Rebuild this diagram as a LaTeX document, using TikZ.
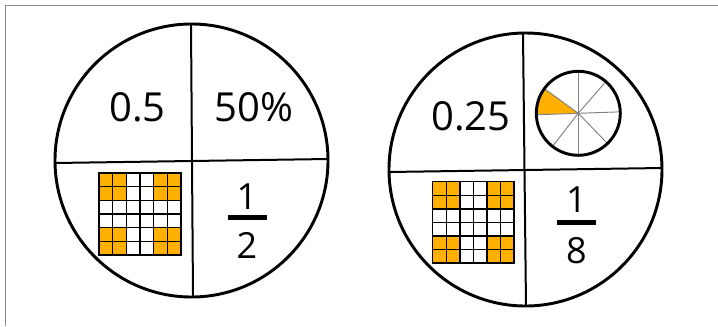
\documentclass[tikz,border=0pt]{standalone}
\usepackage{fontspec}
\setmainfont{Open Sans}
\usetikzlibrary{calc}

\definecolor{tileorange}{HTML}{FFB000}
\definecolor{framegray}{HTML}{8A8A8A}

\tikzset{
    ring/.style={line width=2.2pt},
    divider/.style={line width=1.5pt},
    gridline/.style={line width=1.1pt, line cap=rect},
    spoke/.style={line width=0.7pt, gray},
    fracbar/.style={line width=3.4pt},
    bignum/.style={inner sep=0pt, font=\fontsize{30}{36}\selectfont},
    fracnum/.style={inner sep=0pt, font=\fontsize{27}{32}\selectfont}
}

\begin{document}
\begin{tikzpicture}[x=0.75pt, y=-0.75pt]
\useasboundingbox (0,0) rectangle (718,326);

% Frame
\draw[framegray, line width=1.4pt] (5.5,326) -- (5.5,5.5) -- (718,5.5);

% ===================== LEFT: ONE HALF =====================
\begin{scope}[shift={(191.5,160.5)}]
    % Disc and quarters
    \draw[ring] (0,0) circle[radius=136.5];
    \draw[divider] (-0.5,-136.5) -- (1.5,136.5);
    \draw[divider] (-136.5,2.5) -- (136.5,-1.5);

    % Decimal and percent
    \node[bignum] (dec1) at (-54,-53) {0.5};
    \node[bignum] (pct1) at (62.5,-53) {50\%};

    % Fraction
    \node[fracnum] (num1) at (55.5,36.2) {1};
    \node[fracnum] (den1) at (55.5,85.3) {2};
    \draw[fracbar] (36.8,57) -- (75.2,57);

    % Hundred grid
    \begin{scope}[shift={(-92.5,12.5)}]
        \foreach \c in {0,4}
            \foreach \r in {0,4}
                \fill[tileorange] (\c*13.67,\r*13.67) rectangle ++(27.34,27.34);
        \foreach \k in {0,...,6} {
            \draw[gridline] (\k*13.67,0) -- (\k*13.67,82);
            \draw[gridline] (0,\k*13.67) -- (82,\k*13.67);
        }
    \end{scope}
\end{scope}

% ===================== RIGHT: ONE EIGHTH =====================
\begin{scope}[shift={(525.5,169.5)}]
    % Disc and quarters
    \draw[ring] (0,0) circle[radius=136.5];
    \draw[divider] (-2.5,-136.5) -- (0.5,136.5);
    \draw[divider] (-136.5,2.5) -- (136.5,-1.5);

    % Decimal
    \node[bignum] (dec2) at (-54.7,-53.3) {0.25};

    % Small pie in eighths
    \begin{scope}[shift={(52.8,-56.2)}]
        \fill[tileorange] (0,0) -- (-144:42)
            arc[start angle=-144, end angle=-182, radius=42] -- cycle;
        \foreach \a in {-90,-49,-2,46,90,128,-182,-144}
            \draw[spoke] (0,0) -- (\a:42);
        \draw[ring] (0,0) circle[radius=42];
    \end{scope}

    % Fraction
    \node[fracnum] (num2) at (51,30) {1};
    \node[fracnum] (den2) at (51,81.2) {8};
    \draw[fracbar] (31.2,53) -- (70.2,53);

    % Hundred grid
    \begin{scope}[shift={(-92.8,12.2)}]
        \foreach \c in {0,4}
            \foreach \r in {0,4}
                \fill[tileorange] (\c*13.55,\r*13.55) rectangle ++(27.1,27.1);
        \foreach \k in {0,...,6} {
            \draw[gridline] (\k*13.55,0) -- (\k*13.55,81.3);
            \draw[gridline] (0,\k*13.55) -- (81.3,\k*13.55);
        }
    \end{scope}
\end{scope}

\end{tikzpicture}
\end{document}
